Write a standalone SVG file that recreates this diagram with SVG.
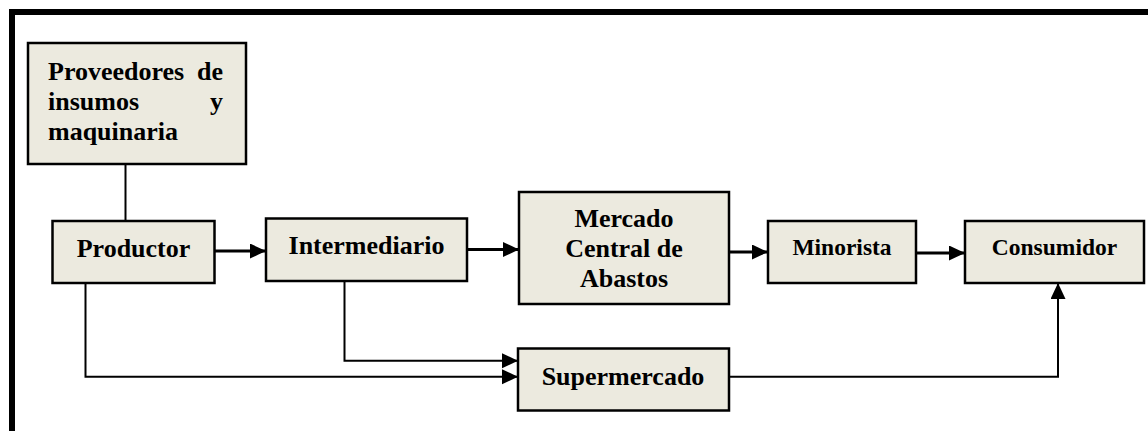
<svg xmlns="http://www.w3.org/2000/svg" width="1148" height="431" viewBox="0 0 1148 431">
<style>
.box{fill:#ECEADF;stroke:#000;stroke-width:2.5}
.t{font-family:"Liberation Serif","Times New Roman",serif;font-weight:bold;font-size:26px;fill:#000}
.ts{font-size:23.5px}
.c{text-anchor:middle}
.e{text-anchor:end}
.ln{fill:none;stroke:#000;stroke-width:3}
.lt{fill:none;stroke:#000;stroke-width:2}
</style>
<defs>
<marker id="ah" markerUnits="userSpaceOnUse" markerWidth="17" markerHeight="16" refX="16" refY="7.5" orient="auto">
<path d="M0,0 L16,7.5 L0,15 z" fill="#000"/>
</marker>
</defs>
<rect x="0" y="0" width="1148" height="431" fill="#fff"/>
<rect id="frame" x="12" y="12" width="1200" height="500" fill="none" stroke="#000" stroke-width="6"/>
<g id="connectors">
<line class="lt" x1="125.5" y1="164" x2="125.5" y2="221"/>
<line class="ln" x1="214" y1="251" x2="266" y2="251" marker-end="url(#ah)"/>
<line class="ln" x1="467" y1="249.5" x2="519" y2="249.5" marker-end="url(#ah)"/>
<line class="ln" x1="729" y1="252" x2="768" y2="252" marker-end="url(#ah)"/>
<line class="ln" x1="916" y1="253" x2="965" y2="253" marker-end="url(#ah)"/>
<polyline class="lt" points="85.5,283 85.5,376.7 518,376.7" marker-end="url(#ah)"/>
<polyline class="lt" points="344.5,281 344.5,360.7 518,360.7" marker-end="url(#ah)"/>
<polyline class="lt" points="729,376.7 1058,376.7 1058,283" marker-end="url(#ah)"/>
</g>
<g id="proveedores">
<rect class="box" x="28" y="43" width="218" height="121"/>
<text class="t" x="48" y="80">Proveedores</text>
<text class="t e" x="223" y="80">de</text>
<text class="t" x="48" y="110">insumos</text>
<text class="t e" x="223" y="110">y</text>
<text class="t" x="48" y="140">maquinaria</text>
</g>
<g id="productor">
<rect class="box" x="52.5" y="221" width="162" height="62"/>
<text class="t c" x="133.5" y="257">Productor</text>
</g>
<g id="intermediario">
<rect class="box" x="266" y="218.5" width="201" height="62.5"/>
<text class="t c" x="366.5" y="254">Intermediario</text>
</g>
<g id="mercado">
<rect class="box" x="519" y="192" width="210" height="112"/>
<text class="t c" x="624" y="227">Mercado</text>
<text class="t c" x="624" y="257">Central de</text>
<text class="t c" x="624" y="287">Abastos</text>
</g>
<g id="minorista">
<rect class="box" x="768" y="221" width="148" height="62"/>
<text class="t ts c" x="842" y="255">Minorista</text>
</g>
<g id="consumidor">
<rect class="box" x="965" y="221" width="179" height="62"/>
<text class="t ts c" x="1054.5" y="255">Consumidor</text>
</g>
<g id="supermercado">
<rect class="box" x="518" y="348.5" width="211" height="62"/>
<text class="t c" x="623" y="385">Supermercado</text>
</g>
</svg>
